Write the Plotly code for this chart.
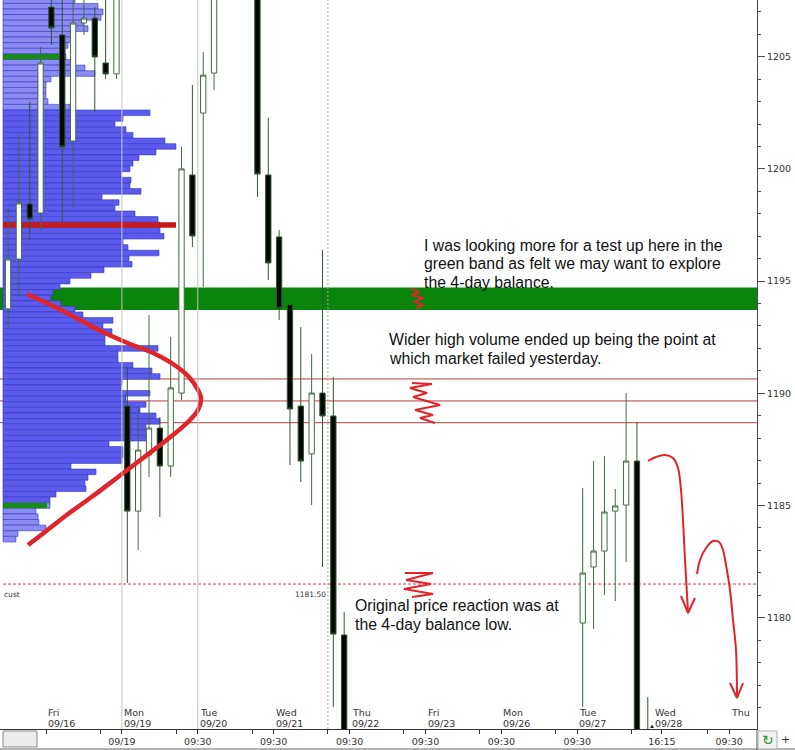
import plotly.graph_objects as go

# ---------------- data ----------------
# bar slot index (7 hourly bars per session; slot 0 = first bar of Fri 09/16)
SLOTS = [-4, -3, -2, -1, 0, 1, 2, 3, 4, 5, 6, 7, 8, 9, 10, 11, 12, 13, 14, 15,
         19, 20, 21, 22, 23, 24, 25, 26, 27, 49, 50, 51, 52, 53, 54, 55]
OPEN = [1193.76, 1195.98, 1198.44, 1198.03, 1207.21, 1205.97, 1201.24, 1206.50, 1206.72, 1204.72,
        1204.23, 1189.43, 1184.75, 1187.25, 1188.45, 1186.76, 1190.01, 1199.73, 1202.49, 1204.27,
        1208.50, 1199.73, 1196.97, 1193.94, 1189.43, 1187.30, 1190.01, 1188.99, 1179.23,
        1179.76, 1182.26, 1182.97, 1184.75, 1185.02, 1186.98, 1174.50]
HIGH = [1198.26, 1201.51, 1202.98, 1205.43, 1208.00, 1208.20, 1208.00, 1207.80, 1207.21, 1207.70,
        1209.50, 1191.17, 1189.39, 1193.49, 1188.94, 1192.51, 1200.98, 1203.74, 1205.21, 1209.50,
        1209.00, 1202.27, 1197.28, 1194.00, 1192.95, 1191.75, 1196.39, 1190.73, 1180.25,
        1185.78, 1186.98, 1187.21, 1185.74, 1190.01, 1188.72, 1176.47]
LOW = [1192.95, 1194.29, 1196.83, 1197.28, 1205.52, 1197.63, 1198.30, 1205.97, 1202.54, 1204.01,
       1204.01, 1181.55, 1183.02, 1186.27, 1184.49, 1186.27, 1189.70, 1196.52, 1194.74, 1203.52,
       1198.75, 1195.05, 1193.27, 1186.80, 1186.05, 1185.02, 1182.26, 1176.02, 1173.50,
       1176.02, 1179.50, 1181.01, 1180.74, 1182.48, 1173.50, 1173.80]
CLOSE = [1195.98, 1198.48, 1197.77, 1204.72, 1206.28, 1200.98, 1206.50, 1206.72, 1204.99, 1204.23,
         1208.50, 1184.75, 1187.47, 1188.45, 1186.76, 1190.24, 1200.00, 1197.01, 1204.18, 1208.50,
         1199.77, 1195.81, 1193.80, 1189.30, 1186.98, 1190.01, 1188.99, 1179.27, 1174.00,
         1181.99, 1182.97, 1184.71, 1184.98, 1186.98, 1174.00, 1174.20]

# volume profile (price row -> volume units)
PROFILE_PRICE = [1207.50, 1207.25, 1207.00, 1206.75, 1206.50, 1206.25, 1206.00, 1205.75, 1205.50, 1205.25,
                 1205.00, 1204.75, 1204.50, 1204.25, 1204.00, 1203.75, 1203.50, 1203.25, 1203.00, 1202.75,
                 1202.50, 1202.25, 1202.00, 1201.75, 1201.50, 1201.25, 1201.00, 1200.75, 1200.50, 1200.25,
                 1200.00, 1199.75, 1199.50, 1199.25, 1199.00, 1198.75, 1198.50, 1198.25, 1198.00, 1197.75,
                 1197.50, 1197.25, 1197.00, 1196.75, 1196.50, 1196.25, 1196.00, 1195.75, 1195.50, 1195.25,
                 1195.00, 1194.75, 1194.50, 1194.25, 1194.00, 1193.75, 1193.50, 1193.25, 1193.00, 1192.75,
                 1192.50, 1192.25, 1192.00, 1191.75, 1191.50, 1191.25, 1191.00, 1190.75, 1190.50, 1190.25,
                 1190.00, 1189.75, 1189.50, 1189.25, 1189.00, 1188.75, 1188.50, 1188.25, 1188.00, 1187.75,
                 1187.50, 1187.25, 1187.00, 1186.75, 1186.50, 1186.25, 1186.00, 1185.75, 1185.50, 1185.25,
                 1185.00, 1184.75, 1184.50, 1184.25, 1184.00, 1183.75, 1183.50]
PROFILE_VOL = [72, 95, 100, 98, 80, 85, 70, 68, 65, 62,
               63, 72, 82, 92, 48, 43, 43, 43, 45, 67,
               147, 120, 112, 123, 130, 162, 173, 153, 136, 130,
               127, 118, 128, 127, 138, 99, 116, 112, 132, 155,
               157, 157, 161, 120, 125, 156, 126, 129, 101, 88,
               67, 57, 50, 48, 58, 72, 80, 110, 100, 109,
               102, 102, 155, 115, 115, 130, 149, 157, 119, 118,
               147, 123, 143, 137, 153, 157, 143, 143, 143, 106,
               120, 120, 119, 68, 93, 85, 82, 83, 53, 47,
               47, 33, 35, 36, 43, 15, 13]
VALUE_AREA_HIGH = 1202.5
VALUE_AREA_LOW = 1185.25
VAH_LINE = 1205.0
POC = 1197.5
VAL_LINE = 1185.0

GREEN_BAND = (1193.71, 1194.72)
RED_LEVELS = [1190.64, 1189.66, 1188.69]
CUST_LEVEL = 1181.5

DAY_NAMES = ["Fri", "Mon", "Tue", "Wed", "Thu", "Fri", "Mon", "Tue", "Wed", "Thu"]
DAY_DATES = ["09/16", "09/19", "09/20", "09/21", "09/22", "09/23", "09/26", "09/27", "09/28", ""]
DAY_START = [-0.5, 6.5, 13.5, 20.5, 27.5, 34.5, 41.5, 48.5, 55.5, 62.5]
TIME_TICK_SLOTS = [-0.5, 6.5, 13.5, 20.5, 27.5, 34.5, 41.5, 48.5, 56.3, 62.5]
TIME_TICK_TEXT = ["", "09/19", "09:30", "09:30", "09:30", "09:30", "09:30", "09:30", "16:15", "09:30"]
TIME_MINOR_SLOTS = [4.5, 11.5, 18.5, 25.5, 32.5, 39.5, 46.5, 53.5, 60.5]

NOTE1 = ["I was looking more for a test up here in the",
         "green band as felt we may want to explore",
         "the 4-day balance."]
NOTE2 = ["Wider high volume ended up being the point at",
         "which market failed yesterday."]
NOTE3 = ["Original price reaction was at",
         "the 4-day balance low."]

# ---------------- layout constants ----------------
W, H = 795, 750
PW, PH = 757, 729          # plot area in pixels
SLOT_PX = 10.843
X_RANGE = [-4.742, 65.072]
Y_RANGE = [1175.04, 1207.527]
VOL_TO_SLOT = 1.0 / SLOT_PX
PROFILE_BASE = X_RANGE[0] + 3 * VOL_TO_SLOT


def px(x):
    return x / PW


def py(y):
    return 1 - y / PH


fig = go.Figure()

# volume profile
prof_colors = []
for p in PROFILE_PRICE:
    if VALUE_AREA_LOW <= p <= VALUE_AREA_HIGH:
        prof_colors.append("#5b5bee")
    else:
        prof_colors.append("#8b8bf3")
fig.add_trace(go.Bar(
    orientation="h", y=PROFILE_PRICE, x=[v * VOL_TO_SLOT for v in PROFILE_VOL],
    base=PROFILE_BASE, width=0.25,
    marker=dict(color=prof_colors, line=dict(color="#3838c0", width=0.6)),
    showlegend=False, hoverinfo="skip"))

# candles
fig.add_trace(go.Candlestick(
    x=SLOTS, open=OPEN, high=HIGH, low=LOW, close=CLOSE,
    increasing=dict(fillcolor="#ffffff", line=dict(color="#3d6e3d", width=1)),
    decreasing=dict(fillcolor="#030603", line=dict(color="#2d5a2d", width=1)),
    whiskerwidth=0, showlegend=False))

# VAH / POC / VAL markers
fig.add_trace(go.Bar(
    orientation="h", y=[VAH_LINE, POC, VAL_LINE],
    x=[62 * VOL_TO_SLOT, 173 * VOL_TO_SLOT, 44 * VOL_TO_SLOT],
    base=PROFILE_BASE, width=0.25,
    marker=dict(color=["#178a17", "#c81818", "#178a17"], line=dict(width=0)),
    showlegend=False, hoverinfo="skip"))

# freehand red drawings (pixel space overlay)
RED = "#e0242a"
PARABOLA = [(27, 294), (55, 307), (80, 320), (105, 333), (130, 344), (153, 353), (173, 364),
            (189, 377), (198, 390), (201, 398), (198, 410), (188, 422), (168, 439), (143, 458),
            (118, 477), (93, 496), (68, 514), (45, 532), (28, 545)]
SQUIG1 = [(411, 289), (419, 292), (412, 295), (423, 298), (414, 302), (423, 305), (416, 308)]
SQUIG2 = [(412, 383), (432, 384), (410, 388), (427, 393), (413, 397), (440, 405), (415, 410),
          (433, 415), (420, 418), (435, 423)]
SQUIG3 = [(405, 573), (433, 573), (406, 580), (431, 584), (404, 589), (433, 594), (412, 597)]
ARROW1 = [(648, 461), (656, 457), (665, 455), (673, 458), (678, 468), (681, 490), (683, 520),
          (685, 560), (688, 612)]
HEAD1 = [(681, 596), (688, 613), (695, 598)]
ARROW2 = [(697, 574), (700, 560), (706, 548), (713, 541), (719, 542), (723, 550), (726, 565),
          (730, 590), (733, 620), (736, 650), (737, 697)]
HEAD2 = [(730, 683), (737, 698), (743, 683)]

for pts, wdt, shp in [(PARABOLA, 4.5, "spline"), (SQUIG1, 2, "linear"), (SQUIG2, 2, "linear"),
                      (SQUIG3, 2, "linear"), (ARROW1, 2, "spline"), (HEAD1, 2, "linear"),
                      (ARROW2, 2, "spline"), (HEAD2, 2, "linear")]:
    fig.add_trace(go.Scatter(
        x=[p[0] for p in pts], y=[p[1] for p in pts], mode="lines",
        line=dict(color=RED, width=wdt, shape=shp),
        xaxis="x2", yaxis="y2", showlegend=False, hoverinfo="skip"))

shapes = []
shapes.append(dict(type="rect", xref="paper", yref="y", x0=0, x1=1,
                   y0=GREEN_BAND[0], y1=GREEN_BAND[1], fillcolor="#0a840a",
                   line=dict(width=0), layer="below"))
for lv in RED_LEVELS:
    shapes.append(dict(type="line", xref="paper", yref="y", x0=0, x1=1, y0=lv, y1=lv,
                       line=dict(color="#b83c3c", width=1), layer="below"))
shapes.append(dict(type="line", xref="paper", yref="y", x0=px(3), x1=1, y0=CUST_LEVEL, y1=CUST_LEVEL,
                   line=dict(color="#d43c3c", width=1, dash="3px,2px"), layer="below"))
for xs in [6.5, 13.5]:
    shapes.append(dict(type="line", xref="x", yref="paper", x0=xs, x1=xs, y0=0, y1=1,
                       line=dict(color="#c4c4c4", width=1), layer="above"))
shapes.append(dict(type="line", xref="x", yref="paper", x0=25.5, x1=25.5, y0=0, y1=1,
                   line=dict(color="#a8a8a8", width=1, dash="2px,2px"), layer="above"))
# bottom strip furniture
shapes.append(dict(type="rect", xref="paper", yref="paper", x0=px(3), x1=px(37),
                   y0=py(731), y1=py(747), fillcolor="#ececec", line=dict(color="#8c8c8c", width=1)))
shapes.append(dict(type="line", xref="paper", yref="paper", x0=0, x1=px(795), y0=py(749), y1=py(749),
                   line=dict(color="#666666", width=1)))
shapes.append(dict(type="line", xref="paper", yref="paper", x0=1, x1=1, y0=0, y1=py(750),
                   line=dict(color="#4a4a4a", width=1)))
shapes.append(dict(type="rect", xref="paper", yref="paper", x0=px(758), x1=px(777),
                   y0=py(731), y1=py(749), fillcolor="#f3f3f3", line=dict(color="#b0b0b0", width=1)))

annotations = []
TXT_FONT = dict(family="Liberation Sans, Arial, sans-serif", size=15.8, color="#111111")
for lines, x0, ys in [(NOTE1, 422, [245, 263.5, 282]), (NOTE2, 387, [340, 358.5]),
                      (NOTE3, 352.7, [605.7, 624.2])]:
    for t, yy in zip(lines, ys):
        annotations.append(dict(text=t, xref="paper", yref="paper", x=px(x0), y=py(yy),
                                xanchor="left", yanchor="middle", showarrow=False, font=TXT_FONT))

AX_FONT = dict(family="DejaVu Sans, Verdana, sans-serif", size=9.5, color="#333333")
for name, date, xs in zip(DAY_NAMES, DAY_DATES, DAY_START):
    annotations.append(dict(text=name, xref="x", yref="paper", x=xs, y=py(712.5),
                            xanchor="left", yanchor="middle", showarrow=False, font=AX_FONT))
    if date:
        annotations.append(dict(text=date, xref="x", yref="paper", x=xs, y=py(723.5),
                                xanchor="left", yanchor="middle", showarrow=False, font=AX_FONT))

SMALL = dict(family="DejaVu Sans, Verdana, sans-serif", size=7.5, color="#333333")
annotations.append(dict(text="cust", xref="paper", yref="paper", x=px(2), y=py(594),
                        xanchor="left", yanchor="middle", showarrow=False, font=SMALL))
annotations.append(dict(text="%.2f" % CUST_LEVEL, xref="x", yref="paper", x=25.5, y=py(594),
                        xanchor="right", yanchor="middle", showarrow=False, font=SMALL))
annotations.append(dict(text="▲", xref="x", yref="paper", x=55.4, y=py(726),
                        xanchor="center", yanchor="middle", showarrow=False,
                        font=dict(size=6, color="#111111")))
annotations.append(dict(text="↻", xref="paper", yref="paper", x=px(767.5), y=py(740),
                        xanchor="center", yanchor="middle", showarrow=False,
                        font=dict(family="DejaVu Sans", size=14, color="#2b8a2b")))
annotations.append(dict(text="+", xref="paper", yref="paper", x=px(786), y=py(739.5),
                        xanchor="center", yanchor="middle", showarrow=False,
                        font=dict(family="DejaVu Sans", size=11, color="#333333")))

fig.update_layout(
    width=W, height=H, margin=dict(l=0, r=W - PW, t=0, b=H - PH),
    paper_bgcolor="white", plot_bgcolor="white", barmode="overlay", showlegend=False,
    xaxis=dict(range=X_RANGE, showgrid=False, zeroline=False, showline=True, linecolor="#333333",
               linewidth=1, ticks="outside", ticklen=4, tickcolor="#333333",
               tickmode="array", tickvals=TIME_TICK_SLOTS, ticktext=TIME_TICK_TEXT,
               tickfont=AX_FONT, rangeslider=dict(visible=False), fixedrange=True,
               minor=dict(tickmode="array", tickvals=TIME_MINOR_SLOTS, ticks="outside",
                          ticklen=4, tickcolor="#333333", showgrid=False)),
    yaxis=dict(range=Y_RANGE, side="right", showgrid=False, zeroline=False, showline=True,
               linecolor="#4a4a4a", linewidth=1, ticks="outside", ticklen=7, tickcolor="#4a4a4a",
               tick0=1180, dtick=5, tickfont=AX_FONT, fixedrange=True,
               minor=dict(dtick=1, ticks="outside", ticklen=3, tickcolor="#4a4a4a", showgrid=False)),
    xaxis2=dict(overlaying="x", range=[0, PW], visible=False, anchor="y2", fixedrange=True),
    yaxis2=dict(overlaying="y", range=[PH, 0], visible=False, anchor="x2", fixedrange=True),
    shapes=shapes, annotations=annotations,
)

fig.write_html("out.html", config={"displayModeBar": False},
               post_script="document.body.style.margin='0';document.body.style.overflow='hidden';")
